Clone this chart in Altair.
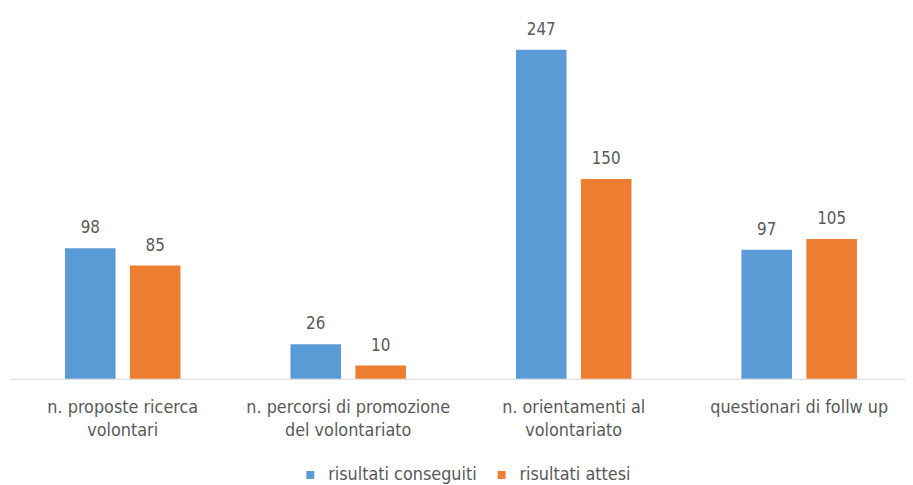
import altair as alt
import pandas as pd

category_lines = [
    ["n. proposte ricerca", "volontari"],
    ["n. percorsi di promozione", "del volontariato"],
    ["n. orientamenti al", "volontariato"],
    ["questionari di follw up"],
]
categories = [" ".join(l) for l in category_lines]
series = ["risultati conseguiti", "risultati attesi"]
conseguiti = [98, 26, 247, 97]
attesi = [85, 10, 150, 105]
colors = ["#5B9BD5", "#ED7D31"]

rows = []
for c, a, b in zip(categories, conseguiti, attesi):
    rows.append({"cat": c, "serie": series[0], "val": a})
    rows.append({"cat": c, "serie": series[1], "val": b})
df = pd.DataFrame(rows)

mapping = "{" + ",".join(
    "'" + c + "':[" + ",".join("'" + s + "'" for s in l) + "]"
    for c, l in zip(categories, category_lines)
) + "}"
label_expr = mapping + "[datum.label]"

FONT = "DejaVu Sans Condensed, Roboto Condensed, Roboto, sans-serif"
GRAY = "#595959"

x = alt.X("cat:N", sort=categories, title=None,
          scale=alt.Scale(paddingInner=0, paddingOuter=0, range=[0, 910]),
          axis=alt.Axis(labelAngle=0, ticks=False, domainColor="#D9D9D9",
                        labelColor=GRAY, labelFontSize=18, labelFont=FONT,
                        labelPadding=20, labelLineHeight=23, labelLimit=400,
                        labelExpr=label_expr, grid=False))
xo = alt.XOffset("serie:N", sort=series,
                 scale=alt.Scale(paddingInner=0.2214, paddingOuter=0.847))
y = alt.Y("val:Q", scale=alt.Scale(domain=[0, 250]), axis=None)

base = alt.Chart(df).encode(x=x, xOffset=xo, y=y)

bars = base.mark_bar().encode(
    color=alt.Color("serie:N", sort=series,
                    scale=alt.Scale(domain=series, range=colors),
                    legend=alt.Legend(title=None, orient="none", direction="horizontal",
                                      legendX=294, legendY=424,
                                      symbolType="square", symbolSize=64,
                                      labelOffset=9, labelLimit=400,
                                      labelColor=GRAY, labelFontSize=18, labelFont=FONT,
                                      columnPadding=16, symbolStrokeWidth=0))
)
labels = base.mark_text(baseline="middle", dy=-20, fontSize=17, color=GRAY, font=FONT).encode(
    text="val:Q"
)

chart = (bars + labels).properties(
    width=896, height=336,
    autosize=alt.AutoSizeParams(type="none"),
    padding={"left": 2, "top": 36, "right": 7, "bottom": 110},
).configure_view(stroke=None)

chart.save("out.html", embed_options={"renderer": "svg", "actions": False})
